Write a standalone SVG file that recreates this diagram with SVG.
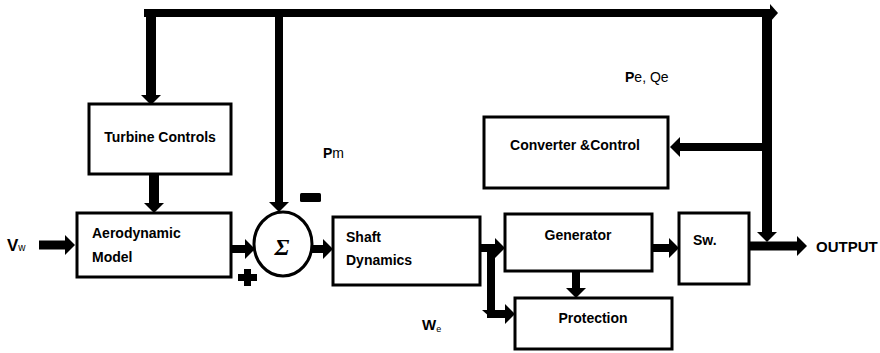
<svg xmlns="http://www.w3.org/2000/svg" width="880" height="353" viewBox="0 0 880 353">
<style>
.box{fill:#fff;stroke:#000;stroke-width:3}
.lbl{font-family:"Liberation Sans",Arial,sans-serif;font-weight:bold;font-size:14px;fill:#000}
.w{fill:none;stroke:#000;stroke-width:8}
.n{font-family:"Liberation Sans",Arial,sans-serif;font-size:14px;fill:#000}
</style>
<defs>
<marker id="ah" viewBox="0 0 10 20" markerWidth="10" markerHeight="20" refX="0" refY="10" orient="auto" markerUnits="userSpaceOnUse">
<path d="M0,0 L10,10 L0,20 Z" fill="#000"/>
</marker>
<marker id="ahs" viewBox="0 0 8 18" markerWidth="8" markerHeight="18" refX="0" refY="9" orient="auto" markerUnits="userSpaceOnUse">
<path d="M0,0 L8,9 L0,18 Z" fill="#000"/>
</marker>
</defs>

<g id="connectors">
<path class="w" d="M144,13 H770" marker-end="url(#ahs)"/>
<path class="w" d="M151,9 V95" style="stroke-width:10" marker-end="url(#ah)"/>
<path class="w" d="M279,17 V202" marker-end="url(#ah)"/>
<path class="w" d="M767,9 V232" style="stroke-width:10" marker-end="url(#ah)"/>
<path class="w" d="M767,147 H680" marker-end="url(#ah)"/>
<path class="w" d="M154,174 V203" style="stroke-width:10" marker-end="url(#ah)"/>
<path class="w" d="M39,245 H65" style="stroke-width:9" marker-end="url(#ah)"/>
<path class="w" d="M231,249 H245" marker-end="url(#ah)"/>
<path class="w" d="M312,249 H323" marker-end="url(#ah)"/>
<path class="w" d="M480,248 H495" marker-end="url(#ah)"/>
<path class="w" d="M491,244 V310" marker-end="url(#ahs)"/>
<path class="w" d="M487,314 H505" marker-end="url(#ah)"/>
<path class="w" d="M576,271 V288" marker-end="url(#ah)"/>
<path class="w" d="M652,248 H669" marker-end="url(#ah)"/>
<path class="w" d="M749,246 H797" style="stroke-width:9" marker-end="url(#ah)"/>
</g>

<g id="turbine-controls">
<rect class="box" x="89" y="104" width="142" height="70"/>
<text class="lbl" x="160" y="142" text-anchor="middle">Turbine Controls</text>
</g>

<g id="aerodynamic-model">
<rect class="box" x="77" y="213" width="154" height="64"/>
<text class="lbl" x="92" y="238">Aerodynamic</text>
<text class="lbl" x="92" y="262">Model</text>
</g>

<g id="sum">
<ellipse cx="283" cy="244" rx="29" ry="32" fill="#fff" stroke="#000" stroke-width="3"/>
<text x="282" y="255" text-anchor="middle" font-family="'Liberation Serif',serif" font-weight="bold" font-style="italic" font-size="24">Σ</text>
</g>

<g id="shaft-dynamics">
<rect class="box" x="333" y="217" width="147" height="68"/>
<text class="lbl" x="346" y="242">Shaft</text>
<text class="lbl" x="346" y="265">Dynamics</text>
</g>

<g id="generator">
<rect class="box" x="505" y="214" width="147" height="57"/>
<text class="lbl" x="578" y="240" text-anchor="middle">Generator</text>
</g>

<g id="protection">
<rect class="box" x="515" y="298" width="157" height="51"/>
<text class="lbl" x="593" y="323" text-anchor="middle">Protection</text>
</g>

<g id="converter-control">
<rect class="box" x="484" y="117" width="184" height="71"/>
<text class="lbl" x="575" y="150" text-anchor="middle">Converter &amp;Control</text>
</g>

<g id="switch">
<rect class="box" x="679" y="213" width="70" height="71"/>
<text class="lbl" x="693" y="245">Sw.</text>
</g>

<g id="labels">
<text class="lbl" x="816" y="252" style="font-size:15px">OUTPUT</text>
<text x="7" y="251" font-family="'Liberation Sans',Arial,sans-serif"><tspan font-weight="bold" font-size="17">V</tspan><tspan font-size="10">w</tspan></text>
<text x="323" y="158" class="n"><tspan font-weight="bold">P</tspan>m</text>
<text x="625" y="82" class="n"><tspan font-weight="bold">P</tspan>e, Qe</text>
<text x="422" y="330" font-family="'Liberation Sans',Arial,sans-serif"><tspan font-weight="bold" font-size="15">W</tspan><tspan font-size="9" dy="2">e</tspan></text>
<rect x="300" y="193" width="21" height="9" rx="1.5" fill="#000"/>
<path d="M244,269 h7 v5 h6 v7 h-6 v5 h-7 v-5 h-6 v-7 h6 z" fill="#000"/>
</g>
</svg>
